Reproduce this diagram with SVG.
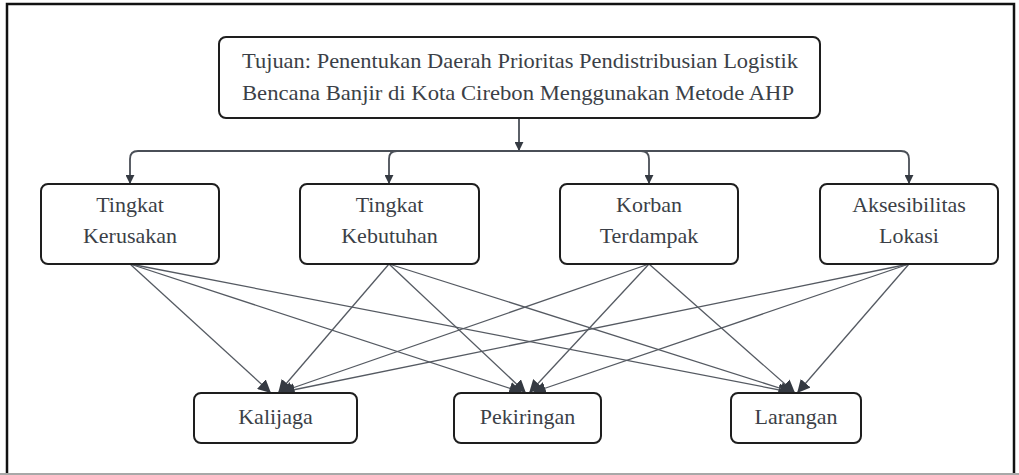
<svg xmlns="http://www.w3.org/2000/svg" width="1019" height="475" viewBox="0 0 1019 475">
<style>
.box{fill:#fff;stroke:#1e1e1e;stroke-width:2}
.t{font-family:"Liberation Serif","DejaVu Serif",serif;font-size:22px;fill:#3b3f47;text-anchor:middle}
.c{fill:none;stroke:#555a62;stroke-width:1.3}
.cb{fill:none;stroke:#4a4f57;stroke-width:1.8}
</style>
<defs>
<marker id="ah" viewBox="0 0 10 10" refX="9" refY="5" markerWidth="9" markerHeight="9" markerUnits="userSpaceOnUse" orient="auto">
<path d="M0,0 L10,5 L0,10 z" fill="#353a42"/>
</marker>
<marker id="ah2" viewBox="0 0 10 10" refX="9" refY="5" markerWidth="13" markerHeight="13" markerUnits="userSpaceOnUse" orient="auto">
<path d="M0,0 L10,5 L0,10 z" fill="#353a42"/>
</marker>
</defs>
<rect x="0" y="0" width="1019" height="475" fill="#fff"/>
<g id="frame">
<path d="M7,474 V4 H1014 V474" fill="none" stroke="#111" stroke-width="2.5"/>
<line x1="0" y1="474" x2="1019" y2="474" stroke="#a8a8a8" stroke-width="2"/>
</g>
<g id="connectors">
<line class="cb" x1="519" y1="118" x2="519" y2="150" marker-end="url(#ah)"/>
<path class="cb" d="M519,151 H138 Q130,151 130,159 V183" marker-end="url(#ah)"/>
<path class="cb" d="M519,151 H397 Q389,151 389,159 V183" marker-end="url(#ah)"/>
<path class="cb" d="M519,151 H641 Q649,151 649,159 V183" marker-end="url(#ah)"/>
<path class="cb" d="M519,151 H901 Q909,151 909,159 V183" marker-end="url(#ah)"/>
<line class="c" x1="130" y1="264" x2="270" y2="392" marker-end="url(#ah2)"/>
<line class="c" x1="130" y1="264" x2="521" y2="392" marker-end="url(#ah2)"/>
<line class="c" x1="130" y1="264" x2="790" y2="392" marker-end="url(#ah2)"/>
<line class="c" x1="389" y1="264" x2="279" y2="392" marker-end="url(#ah2)"/>
<line class="c" x1="389" y1="264" x2="525" y2="392" marker-end="url(#ah2)"/>
<line class="c" x1="389" y1="264" x2="792" y2="392" marker-end="url(#ah2)"/>
<line class="c" x1="649" y1="264" x2="281" y2="392" marker-end="url(#ah2)"/>
<line class="c" x1="649" y1="264" x2="530" y2="392" marker-end="url(#ah2)"/>
<line class="c" x1="649" y1="264" x2="794" y2="392" marker-end="url(#ah2)"/>
<line class="c" x1="909" y1="264" x2="283" y2="392" marker-end="url(#ah2)"/>
<line class="c" x1="909" y1="264" x2="534" y2="392" marker-end="url(#ah2)"/>
<line class="c" x1="909" y1="264" x2="798" y2="392" marker-end="url(#ah2)"/>
</g>
<g id="goal">
<rect class="box" x="219" y="37" width="601" height="81" rx="7"/>
<text class="t" x="520" y="68" textLength="556" lengthAdjust="spacingAndGlyphs">Tujuan: Penentukan Daerah Prioritas Pendistribusian Logistik</text>
<text class="t" x="518" y="100" textLength="552" lengthAdjust="spacingAndGlyphs">Bencana Banjir di Kota Cirebon Menggunakan Metode AHP</text>
</g>
<g id="c1">
<rect class="box" x="41" y="184" width="178" height="80" rx="7"/>
<text class="t" x="130" y="212">Tingkat</text>
<text class="t" x="130" y="243">Kerusakan</text>
</g>
<g id="c2">
<rect class="box" x="300" y="184" width="179" height="80" rx="7"/>
<text class="t" x="389.5" y="212">Tingkat</text>
<text class="t" x="389.5" y="243">Kebutuhan</text>
</g>
<g id="c3">
<rect class="box" x="560" y="184" width="178" height="80" rx="7"/>
<text class="t" x="649" y="212">Korban</text>
<text class="t" x="649" y="243">Terdampak</text>
</g>
<g id="c4">
<rect class="box" x="820" y="184" width="178" height="80" rx="7"/>
<text class="t" x="909" y="212">Aksesibilitas</text>
<text class="t" x="909" y="243">Lokasi</text>
</g>
<g id="a1">
<rect class="box" x="194" y="393" width="163" height="50" rx="7"/>
<text class="t" x="275.5" y="424">Kalijaga</text>
</g>
<g id="a2">
<rect class="box" x="454" y="393" width="147" height="50" rx="7"/>
<text class="t" x="527.5" y="424">Pekiringan</text>
</g>
<g id="a3">
<rect class="box" x="731" y="393" width="130" height="50" rx="7"/>
<text class="t" x="796" y="424">Larangan</text>
</g>
</svg>
